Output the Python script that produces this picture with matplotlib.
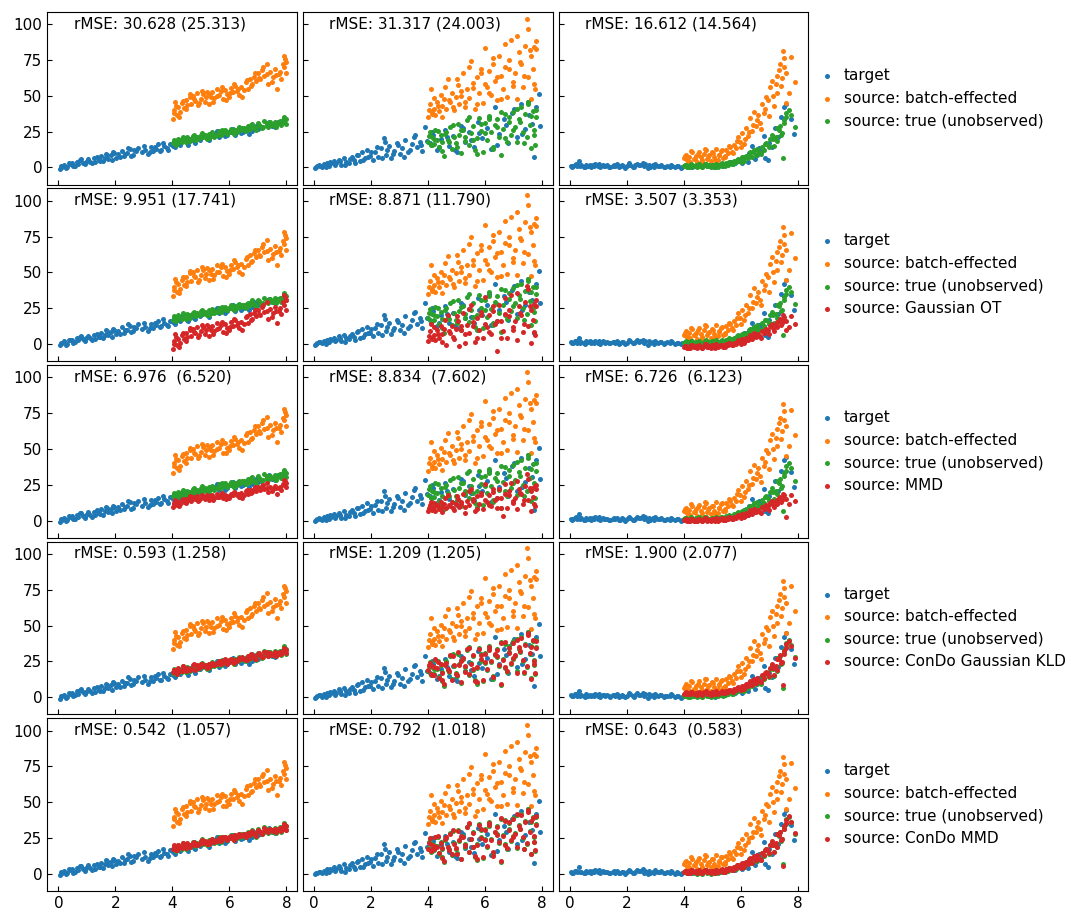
import matplotlib
matplotlib.use("Agg")
import matplotlib.pyplot as plt

# ---- column 1: linear ----
c1_tx = [0.05, 0.12, 0.2, 0.31, 0.4, 0.47, 0.58, 0.66, 0.75, 0.86, 0.93, 1.05, 1.12, 1.24, 1.3, 1.41, 1.5, 1.57,
         1.66, 1.74, 1.83, 1.9, 2.02, 2.1, 2.22, 2.3, 2.41, 2.5, 2.6, 2.71, 2.8, 2.93, 3.05, 3.14, 3.25, 3.33, 3.42,
         3.5, 3.61, 3.72, 3.8, 3.9, 4.02, 4.15, 4.26, 4.37, 4.5, 4.62, 4.75, 4.86, 4.98, 5.1, 5.24, 5.36, 5.5, 5.63,
         5.77, 5.9, 6.05, 6.2, 6.33, 6.47, 6.62, 6.78, 6.92, 7.1, 7.3, 7.5, 7.7, 7.92,
         0.08, 0.25, 0.36, 0.52, 0.7, 0.8, 0.98, 1.18, 1.35, 1.45, 1.62, 1.7, 1.87, 1.96, 2.15, 2.35, 2.45, 2.55,
         2.66, 3.0, 3.2, 3.38, 3.55, 3.67, 3.85, 4.08, 4.32, 4.56, 4.8, 5.05, 5.3, 5.57, 5.84, 6.12, 6.4, 6.7, 7.0,
         7.4, 7.6, 7.85]
c1_ty = [-1.0, 0.5, 1.8, 0.3, 2.5, 3.1, 1.2, 4.0, 5.2, 3.3, 2.1, 5.8, 4.0, 6.3, 3.6, 5.0, 7.8, 4.2, 9.5, 6.1, 8.4,
         10.5, 6.9, 9.2, 11.6, 7.8, 10.1, 12.7, 9.0, 11.4, 13.9, 10.5, 12.0, 9.2, 14.1, 11.5, 13.2, 16.1, 12.3, 14.8,
         13.5, 16.4, 15.2, 17.6, 16.0, 18.9, 17.1, 20.2, 18.3, 21.0, 19.4, 22.3, 20.1, 21.8, 23.5, 21.4, 24.6, 23.0,
         25.1, 22.9, 26.8, 25.0, 27.9, 25.6, 29.3, 28.0, 30.4, 29.1, 31.6, 34.8,
         0.9, -0.5, 3.0, 0.8, 2.5, 5.6, 3.9, 2.8, 7.1, 4.6, 6.6, 8.8, 5.2, 9.8, 7.3, 9.6, 13.8, 8.2, 12.2, 15.0,
         11.0, 14.6, 11.8, 17.2, 12.4, 14.0, 19.8, 15.8, 17.2, 23.0, 18.9, 25.5, 21.7, 27.2, 24.1, 23.5, 27.0,
         31.8, 28.4, 32.0]
c1_sx = [4.02, 4.06, 4.1, 4.15, 4.2, 4.27, 4.33, 4.4, 4.46, 4.52, 4.6, 4.66, 4.72, 4.8, 4.86, 4.93, 5.0, 5.07, 5.14,
         5.2, 5.27, 5.34, 5.4, 5.47, 5.55, 5.62, 5.7, 5.76, 5.83, 5.9, 5.97, 6.05, 6.12, 6.2, 6.27, 6.34, 6.42, 6.5,
         6.57, 6.64, 6.71, 6.78, 6.85, 6.92, 7.0, 7.07, 7.14, 7.22, 7.3, 7.37, 7.44, 7.52, 7.6, 7.67, 7.75, 7.82,
         7.88, 7.93, 7.97, 7.99,
         4.04, 4.13, 4.24, 4.36, 4.49, 4.63, 4.76, 4.9, 5.04, 5.17, 5.3, 5.44, 5.58, 5.73, 5.87, 6.01, 6.16, 6.31,
         6.45, 6.6, 6.75, 6.88, 7.03, 7.18, 7.33, 7.48, 7.63, 7.78, 7.9, 7.96]
c1_batch = [33.5, 40.0, 45.5, 36.5, 42.0, 38.5, 45.0, 41.5, 47.0, 43.5, 49.5, 44.0, 50.0, 46.5, 52.0, 45.0, 48.0,
            51.5, 46.0, 53.0, 44.5, 49.0, 52.5, 48.5, 55.0, 50.5, 53.5, 47.5, 54.0, 51.0, 49.0, 55.5, 52.5, 57.0,
            53.5, 50.5, 56.0, 54.0, 59.5, 55.0, 62.0, 58.0, 63.5, 60.5, 66.0, 61.5, 68.0, 64.0, 72.5, 58.5, 66.5,
            63.0, 68.5, 55.0, 65.0, 62.0, 72.0, 78.0, 66.0, 74.0,
            38.0, 43.0, 35.5, 46.5, 40.5, 51.0, 47.5, 43.5, 53.5, 49.0, 51.5, 45.5, 50.0, 56.0, 47.0, 52.0, 58.5,
            55.0, 49.0, 61.0, 57.0, 66.0, 62.5, 70.0, 65.0, 60.0, 64.5, 67.0, 70.0, 76.0]
c1_true = [17.0, 19.5, 18.0, 16.5, 20.0, 18.5, 17.5, 20.5, 19.0, 21.0, 18.5, 20.0, 22.0, 19.5, 21.5, 20.5, 23.0,
           21.0, 22.5, 20.0, 23.5, 22.0, 24.5, 21.5, 23.0, 25.5, 22.5, 24.5, 26.0, 23.5, 25.0, 27.0, 24.5, 26.5,
           25.0, 28.0, 26.0, 27.5, 25.5, 29.0, 27.0, 30.5, 28.0, 26.0, 31.0, 29.0, 27.5, 32.5, 30.0, 28.5, 31.5,
           29.5, 32.0, 30.5, 31.0, 29.5, 33.0, 35.5, 30.5, 33.5,
           18.5, 16.0, 19.0, 21.5, 17.5, 19.5, 22.5, 20.0, 24.0, 21.5, 20.5, 23.5, 22.5, 26.0, 24.0, 25.5, 23.5,
           27.0, 27.5, 26.5, 29.5, 27.5, 30.0, 28.5, 31.0, 30.0, 28.5, 32.5, 31.5, 34.0]
c1_ot = [-3.5, 2.0, 6.7, -1.0, 3.7, 0.7, 6.3, 3.3, 8.0, 5.0, 10.1, 5.4, 10.5, 7.5, 12.2, 6.3, 8.8, 11.8, 7.1, 13.1,
         5.8, 9.7, 12.6, 9.2, 14.8, 10.9, 13.5, 8.4, 13.9, 11.4, 9.7, 15.2, 12.6, 16.5, 13.5, 10.9, 15.6, 13.9, 18.6,
         14.8, 20.7, 17.3, 22.0, 19.4, 24.1, 20.3, 25.8, 22.4, 29.6, 17.7, 24.5, 21.6, 26.2, 14.8, 23.3, 20.7, 29.2,
         34.3, 24.1, 30.9,
         0.3, 4.6, -1.8, 7.5, 2.4, 11.4, 8.4, 5.0, 13.5, 9.7, 11.8, 6.7, 10.5, 15.6, 8.0, 12.2, 17.7, 14.8, 9.7,
         19.9, 16.5, 24.1, 21.1, 27.5, 23.3, 19.0, 22.8, 25.0, 27.5, 32.6]
c1_mmd = [9.6, 12.3, 14.6, 10.8, 13.1, 11.7, 14.4, 12.9, 15.2, 13.8, 16.3, 14.0, 16.5, 15.0, 17.3, 14.4, 15.7,
          17.1, 14.8, 17.8, 14.2, 16.1, 17.6, 15.9, 18.6, 16.7, 18.0, 15.5, 18.2, 16.9, 16.1, 18.8, 17.6, 19.4,
          18.0, 16.7, 19.0, 18.2, 20.5, 18.6, 21.5, 19.9, 22.2, 20.9, 23.2, 21.3, 24.1, 22.4, 26.0, 20.1, 23.4,
          22.0, 24.3, 18.6, 22.8, 21.5, 25.7, 28.3, 23.2, 26.6,
          11.5, 13.6, 10.4, 15.0, 12.5, 16.9, 15.5, 13.8, 18.0, 16.1, 17.1, 14.6, 16.5, 19.0, 15.2, 17.3, 20.1,
          18.6, 16.1, 21.1, 19.4, 23.2, 21.8, 24.9, 22.8, 20.7, 22.6, 23.6, 24.9, 27.4]
c1_kld = [17.8, 19.1, 18.9, 16.2, 20.6, 18.0, 18.3, 20.1, 19.8, 20.4, 19.2, 19.5, 22.6, 19.0, 22.3, 20.1, 23.5,
          21.8, 22.0, 20.7, 23.0, 22.6, 24.0, 22.2, 23.8, 25.0, 23.1, 24.0, 26.6, 23.0, 25.7, 26.5, 25.1, 26.0,
          25.6, 27.4, 26.7, 27.0, 26.2, 28.5, 27.6, 29.8, 28.6, 26.8, 30.4, 29.5, 28.2, 31.8, 30.6, 29.0, 31.0,
          30.2, 31.4, 31.1, 30.5, 30.2, 32.4, 34.6, 31.2, 32.8,
          19.1, 16.6, 18.4, 22.1, 18.2, 18.9, 23.0, 20.6, 23.4, 22.2, 21.1, 22.9, 23.1, 25.4, 24.6, 24.9, 24.2,
          26.4, 28.1, 25.9, 30.1, 26.9, 30.6, 27.9, 31.6, 29.4, 29.1, 31.9, 32.1, 33.4]
c1_cmmd = [17.4, 19.8, 18.5, 16.9, 20.3, 18.9, 17.9, 20.8, 19.4, 21.5, 18.9, 20.4, 21.6, 19.9, 21.1, 21.0, 22.6,
           21.4, 22.9, 20.5, 23.1, 22.4, 24.1, 21.9, 23.5, 25.1, 22.9, 24.9, 25.6, 23.9, 25.4, 26.7, 24.9, 26.9,
           25.4, 27.6, 26.4, 27.9, 25.9, 28.6, 27.4, 30.1, 28.4, 26.5, 30.6, 29.4, 27.9, 32.0, 30.4, 28.9, 31.1,
           29.9, 31.6, 30.9, 31.4, 29.9, 32.6, 35.0, 30.9, 33.1,
           18.2, 16.4, 19.4, 21.2, 17.9, 19.9, 22.2, 20.4, 23.7, 21.9, 20.9, 23.2, 22.9, 25.7, 24.4, 25.2, 23.9,
           26.7, 27.2, 26.9, 29.2, 27.9, 29.7, 28.9, 30.7, 30.4, 28.9, 32.2, 31.2, 33.7]

# ---- column 2: heteroscedastic ----
c2_tx = [0.03, 0.1, 0.18, 0.27, 0.35, 0.44, 0.52, 0.6, 0.7, 0.78, 0.88, 0.95, 1.05, 1.13, 1.22, 1.33, 1.4, 1.5,
         1.6, 1.68, 1.77, 1.86, 1.95, 2.05, 2.15, 2.25, 2.33, 2.44, 2.52, 2.62, 2.7, 2.82, 2.9, 3.0, 3.1, 3.2, 3.3,
         3.42, 3.5, 3.6, 3.7, 3.8, 3.9, 4.05, 4.18, 4.3, 4.45, 4.6, 4.72, 4.88, 5.0, 5.15, 5.3, 5.45, 5.6, 5.75,
         5.9, 6.05, 6.2, 6.35, 6.5, 6.65, 6.8, 6.95, 7.1, 7.25, 7.4, 7.55, 7.7, 7.88,
         0.06, 0.22, 0.4, 0.56, 0.74, 0.92, 1.1, 1.27, 1.45, 1.55, 1.72, 1.9, 2.0, 2.2, 2.38, 2.48, 2.57, 2.76,
         2.95, 3.15, 3.36, 3.55, 3.75, 3.95, 4.12, 4.38, 4.66, 4.95, 5.22, 5.5, 5.8, 6.12, 6.42, 6.72, 7.0, 7.3,
         7.5, 7.65, 7.8, 7.92]
c2_ty = [-0.5, 0.8, 1.5, 0.4, 2.2, 3.0, 1.2, 2.8, 4.5, 3.0, 5.5, 2.0, 6.5, 4.0, 3.2, 7.2, 5.0, 8.5, 4.5, 10.5, 6.8,
         12.0, 8.0, 5.5, 11.0, 7.5, 13.5, 20.5, 9.0, 15.0, 6.8, 11.5, 17.0, 9.5, 13.5, 19.5, 11.0, 16.5, 21.5,
         14.0, 18.0, 11.5, 28.5, 17.0, 23.0, 12.5, 20.0, 26.5, 15.0, 22.0, 11.0, 29.0, 18.0, 24.5, 14.5, 32.0,
         20.5, 27.5, 13.0, 42.0, 23.5, 33.5, 17.0, 38.0, 21.0, 44.0, 27.0, 36.5, 7.5, 51.0,
         0.3, 1.2, 0.2, 3.6, 1.8, 4.2, 1.5, 5.8, 3.0, 9.0, 5.0, 7.5, 10.5, 14.0, 6.5, 17.5, 12.0, 9.5, 15.5, 7.5,
         12.5, 22.5, 16.0, 18.5, 25.0, 14.5, 21.0, 12.5, 27.5, 19.0, 24.0, 35.0, 16.0, 29.5, 40.5, 23.5, 45.5,
         30.5, 42.0, 29.0]
c2_sx = [4.01, 4.05, 4.1, 4.14, 4.2, 4.25, 4.31, 4.38, 4.44, 4.5, 4.57, 4.63, 4.7, 4.77, 4.84, 4.9, 4.97, 5.04,
         5.1, 5.17, 5.24, 5.31, 5.38, 5.45, 5.52, 5.59, 5.66, 5.73, 5.8, 5.87, 5.94, 6.01, 6.08, 6.15, 6.22, 6.29,
         6.36, 6.43, 6.5, 6.57, 6.64, 6.71, 6.78, 6.85, 6.92, 6.99, 7.06, 7.13, 7.2, 7.27, 7.34, 7.41, 7.47, 7.52,
         7.57, 7.62, 7.67, 7.72, 7.76, 7.8,
         4.03, 4.12, 4.22, 4.34, 4.47, 4.6, 4.73, 4.87, 5.0, 5.14, 5.28, 5.42, 5.56, 5.7, 5.84, 5.98, 6.12, 6.26,
         6.4, 6.54, 6.68, 6.82, 6.96, 7.1, 7.24, 7.38, 7.5, 7.6, 7.7, 7.78]
c2_batch = [35.0, 44.0, 55.0, 38.5, 41.0, 36.5, 46.0, 39.5, 50.5, 43.0, 48.0, 41.0, 61.5, 45.5, 52.0, 40.0, 49.5,
            57.5, 44.0, 53.5, 66.0, 42.5, 55.0, 48.5, 74.5, 59.0, 40.5, 63.5, 52.0, 69.0, 45.0, 83.5, 56.0, 67.5,
            50.5, 72.0, 60.5, 47.0, 78.0, 64.0, 55.0, 70.5, 49.0, 75.0, 89.0, 60.0, 66.0, 48.0, 80.5, 72.5, 56.5,
            85.0, 104.0, 63.0, 82.0, 47.5, 69.0, 84.0, 55.0, 82.5,
            40.0, 37.0, 48.5, 43.0, 35.5, 56.5, 47.0, 42.0, 62.0, 50.0, 46.0, 70.0, 55.5, 44.0, 66.0, 58.5, 52.0,
            76.5, 63.5, 47.5, 86.0, 69.0, 57.0, 92.0, 74.0, 64.0, 97.0, 78.0, 58.0, 88.0]
c2_true = [18.0, 24.5, 15.5, 21.0, 16.5, 26.0, 19.5, 14.0, 22.5, 17.5, 8.0, 25.0, 19.0, 28.5, 13.0, 21.5, 17.0,
           30.5, 23.0, 10.0, 26.5, 18.5, 33.0, 15.5, 24.0, 29.0, 12.0, 20.5, 34.5, 25.5, 11.0, 31.0, 19.0, 36.0,
           24.5, 14.5, 29.5, 33.5, 21.5, 8.5, 27.0, 37.5, 17.5, 31.5, 23.0, 39.0, 28.5, 18.0, 34.0, 42.0, 25.0,
           37.0, 21.0, 44.0, 30.0, 13.5, 39.5, 26.0, 16.0, 35.0,
           22.0, 16.0, 20.0, 25.5, 11.5, 23.5, 17.5, 30.0, 14.5, 26.0, 21.0, 35.0, 19.0, 9.5, 30.5, 24.0, 33.5,
           13.0, 28.0, 38.5, 20.5, 35.5, 26.5, 41.0, 31.5, 17.0, 45.5, 36.0, 22.5, 40.0]
c2_ot = [2.2, 8.9, 14.0, 4.5, 6.1, 2.6, 9.6, 4.5, 12.6, 6.7, 10.3, -1.0, 20.0, 7.8, 12.5, 3.3, 10.2, 16.0, -1.5,
         12.6, 21.8, 0.5, 13.1, 8.0, 27.3, 15.5, 1.4, 18.4, 9.6, 22.1, 3.9, 32.6, 11.8, 20.2, 7.2, 23.1, 14.3, -5.0,
         27.0, 16.3, 9.3, 20.8, 4.4, 23.7, 34.0, 12.0, 16.3, 2.6, 26.8, 20.6, 8.4, 29.5, 40.5, 12.7, 26.8, 0.7, 16.7,
         27.8, 6.0, 26.5,
         5.9, 3.4, 11.7, 7.2, 1.2, 16.6, 9.1, 4.9, 19.5, 10.1, 6.7, 24.2, 12.9, 3.9, 20.0, 14.0, 8.6, 26.6, 16.4,
         4.0, 32.5, 19.3, 9.9, 35.7, 21.8, 13.9, 38.3, 23.7, 8.4, 30.7]
c2_mmd = [6.7, 10.7, 13.0, 8.1, 9.2, 7.0, 11.2, 8.2, 13.0, 9.6, 11.7, 8.5, 17.6, 10.3, 13.1, 7.6, 11.8, 15.3, 9.2,
          13.3, 18.8, 5.0, 13.7, 10.6, 22.2, 15.2, 6.7, 17.0, 11.7, 19.2, 8.4, 25.6, 13.1, 18.2, 10.4, 20.0, 14.7,
          8.5, 22.4, 15.9, 3.0, 18.6, 8.8, 20.5, 26.6, 13.5, 16.1, 7.9, 22.4, 18.7, 11.4, 24.1, 32.6, 14.1, 22.5,
          7.0, 16.6, 23.2, 10.1, 22.4,
          9.0, 7.5, 12.5, 9.9, 6.3, 15.5, 11.1, 8.6, 17.4, 11.8, 9.8, 20.4, 13.7, 8.3, 17.9, 14.3, 11.2, 22.0,
          16.0, 8.6, 25.7, 17.8, 12.2, 27.8, 19.4, 14.7, 29.4, 20.7, 11.6, 24.9]
c2_kld = [18.8, 23.7, 16.3, 21.9, 15.8, 26.9, 20.3, 13.4, 23.4, 16.8, 8.9, 24.2, 19.9, 29.2, 12.3, 22.4, 16.2,
          31.3, 22.2, 10.8, 27.3, 17.8, 33.9, 16.4, 23.1, 29.8, 11.3, 21.4, 33.7, 26.4, 11.9, 30.2, 19.8, 35.1,
          25.3, 13.8, 30.4, 32.7, 22.3, 9.3, 26.2, 38.4, 18.3, 30.7, 23.9, 38.2, 29.4, 17.2, 34.9, 41.1, 25.8,
          36.2, 21.9, 43.2, 30.8, 12.7, 40.3, 25.2, 16.8, 34.2,
          22.8, 15.3, 20.9, 24.7, 12.3, 22.7, 18.3, 29.1, 15.3, 25.2, 21.8, 34.1, 19.8, 10.3, 29.7, 24.8, 32.7,
          13.8, 28.8, 37.7, 21.3, 34.7, 27.3, 40.2, 32.3, 17.8, 44.7, 35.2, 23.3, 39.2]
c2_cmmd = [17.3, 25.2, 16.1, 20.4, 17.2, 25.4, 18.8, 14.7, 21.8, 18.2, 8.6, 25.6, 18.4, 27.9, 13.6, 20.9, 17.7,
           29.8, 23.6, 10.6, 25.9, 19.1, 32.4, 14.9, 24.6, 28.4, 12.6, 19.9, 33.9, 24.9, 11.6, 30.4, 19.6, 35.4,
           23.9, 15.1, 28.9, 32.9, 22.1, 9.1, 26.4, 36.9, 18.1, 30.9, 23.6, 38.4, 27.9, 18.6, 33.4, 41.4, 25.6,
           36.4, 21.6, 43.4, 29.4, 14.1, 38.9, 26.6, 16.6, 34.4,
           21.4, 16.6, 19.4, 26.1, 11.1, 24.1, 16.9, 30.6, 14.1, 26.6, 20.4, 35.6, 18.6, 10.1, 31.1, 23.4, 34.1,
           12.6, 27.4, 39.1, 20.1, 36.1, 25.9, 41.6, 31.1, 17.6, 44.9, 36.6, 22.1, 40.6]

# ---- column 3: exponential ----
c3_tx = [0.04, 0.11, 0.19, 0.26, 0.33, 0.41, 0.5, 0.57, 0.65, 0.74, 0.82, 0.9, 0.98, 1.07, 1.15, 1.24, 1.32, 1.4,
         1.5, 1.58, 1.67, 1.75, 1.84, 1.93, 2.02, 2.1, 2.2, 2.28, 2.37, 2.46, 2.55, 2.65, 2.73, 2.82, 2.92, 3.0, 3.1,
         3.2, 3.3, 3.4, 3.5, 3.6, 3.7, 3.8, 3.9, 4.0, 4.15, 4.3, 4.45, 4.6, 4.75, 4.9, 5.05, 5.2, 5.35, 5.5, 5.65,
         5.8, 5.95, 6.1, 6.25, 6.4, 6.55, 6.7, 6.85, 7.0, 7.2, 7.4, 7.6, 7.85,
         0.07, 0.23, 0.37, 0.53, 0.7, 0.86, 1.02, 1.19, 1.36, 1.54, 1.71, 1.88, 2.06, 2.24, 2.42, 2.6, 2.78, 2.96,
         3.15, 3.35, 3.55, 3.75, 3.95, 4.2, 4.5, 4.8, 5.1, 5.4, 5.7, 5.9, 6.05, 6.3, 6.5, 6.65, 6.8, 6.95, 7.1,
         7.3, 7.5, 7.75]
c3_ty = [1.2, 0.8, 1.9, 1.0, 4.5, 1.5, 0.6, 2.0, 1.1, 0.5, 1.6, 2.4, 1.0, 0.3, 1.8, 0.9, 1.4, 0.4, 1.2, 0.8, 2.1,
         0.7, 1.5, -0.2, 1.0, 2.0, 0.6, 1.4, 2.6, 1.8, 3.0, 2.2, -0.5, 0.6, 1.5, 2.4, 0.9, 1.7, 0.2, 1.1, 0.5, 1.3,
         0.1, 0.8, -0.3, 0.9, 1.6, 0.5, 1.3, 0.8, 1.9, 1.0, 0.6, 1.7, 1.2, 2.5, 3.5, 2.8, 5.0, 7.5, 4.0, 15.0, 9.0,
         11.0, 6.5, 17.0, 27.5, 35.0, 44.5, 23.5,
         0.6, 2.2, 1.0, 0.3, 1.8, 0.9, 2.3, 1.2, 0.5, 1.6, 0.2, 1.1, 2.8, 0.4, 1.6, 0.8, 1.9, 0.3, 1.3, 0.6, 1.9,
         0.9, 0.4, 1.5, 0.7, 1.2, 0.4, 2.0, 3.0, 4.5, 3.0, 10.0, 6.0, 13.5, 22.0, 5.0, 14.0, 21.0, 42.0, 34.0]
c3_sx = [4.02, 4.07, 4.12, 4.17, 4.23, 4.29, 4.35, 4.41, 4.47, 4.53, 4.59, 4.65, 4.71, 4.77, 4.83, 4.89, 4.95,
         5.01, 5.07, 5.13, 5.19, 5.25, 5.31, 5.37, 5.43, 5.49, 5.55, 5.62, 5.69, 5.76, 5.83, 5.9, 5.97, 6.04, 6.11,
         6.18, 6.25, 6.32, 6.39, 6.46, 6.53, 6.6, 6.67, 6.74, 6.81, 6.88, 6.95, 7.02, 7.09, 7.16, 7.22, 7.28, 7.33,
         7.38, 7.43, 7.48, 7.53, 7.58, 7.75, 7.9,
         4.05, 4.15, 4.26, 4.38, 4.5, 4.62, 4.74, 4.86, 4.98, 5.1, 5.22, 5.34, 5.46, 5.58, 5.72, 5.86, 6.0, 6.14,
         6.28, 6.42, 6.56, 6.7, 6.84, 6.98, 7.12, 7.26, 7.4, 7.5, 7.6, 7.7]
c3_batch = [6.5, 9.0, 5.0, 7.5, 4.0, 10.5, 6.0, 8.0, 3.5, 11.0, 7.0, 5.0, 9.5, 12.5, 6.0, 8.5, 4.5, 10.0, 7.0,
            13.0, 5.5, 9.0, 11.5, 6.5, 8.0, 12.5, 10.0, 14.0, 11.0, 16.0, 13.5, 21.5, 18.0, 24.0, 16.5, 27.5, 22.0,
            34.5, 25.5, 39.0, 29.0, 36.5, 31.0, 44.0, 38.0, 49.0, 47.0, 56.0, 60.5, 43.0, 58.0, 52.0, 68.0, 72.0,
            62.5, 81.5, 76.5, 45.0, 77.5, 60.0,
            8.0, 4.5, 11.5, 6.0, 9.5, 3.5, 13.0, 7.5, 10.5, 5.0, 8.5, 12.0, 7.0, 15.0, 10.0, 18.5, 14.0, 20.0,
            25.0, 29.5, 33.0, 27.0, 41.0, 36.0, 50.0, 64.0, 57.0, 70.0, 66.0, 52.0]
c3_true = [1.0, 1.8, 0.5, 1.3, 0.2, 2.0, 0.9, 1.5, 0.0, 2.2, 1.0, 0.4, 1.7, 2.5, 0.7, 1.4, 0.1, 1.9, 1.0, 2.6, 0.6,
           1.5, 2.2, 1.0, 1.8, 3.0, 2.0, 3.5, 2.5, 4.5, 3.5, 6.0, 5.0, 7.0, 4.5, 8.0, 6.5, 10.5, 7.5, 12.0, 9.0,
           11.5, 10.0, 14.5, 12.5, 17.0, 16.0, 20.0, 22.5, 15.0, 21.0, 18.5, 26.5, 29.0, 24.0, 6.5, 33.0, 38.0,
           36.5, 28.0,
           1.5, 0.3, 2.2, 0.8, 1.6, 0.1, 2.4, 1.2, 1.9, 0.5, 1.4, 2.8, 1.2, 4.0, 2.5, 5.5, 4.0, 7.0, 9.0, 11.0,
           13.0, 9.5, 16.5, 14.0, 20.0, 27.5, 23.0, 31.0, 35.0, 40.0]
c3_ot = [-2.0, -1.3, -2.5, -1.8, -2.8, -0.9, -2.2, -1.6, -2.9, -0.7, -1.9, -2.5, -1.2, -0.3, -2.2, -1.5, -2.7,
         -1.0, -1.9, -0.1, -2.4, -1.3, -0.6, -2.0, -1.6, -0.3, -1.0, 0.2, -0.7, 0.8, 0.1, 2.5, 1.4, 3.2, 1.0, 4.3,
         2.6, 6.4, 3.7, 7.7, 4.7, 7.0, 5.3, 9.2, 7.4, 10.7, 10.1, 12.8, 14.2, 8.9, 13.4, 11.6, 16.4, 17.6, 14.8,
         20.5, 19.0, 9.5, 19.3, 14.0,
         -1.6, -2.7, -0.6, -2.2, -1.2, -3.0, -0.1, -1.8, -0.9, -2.5, -1.5, -0.4, -1.9, 0.5, -1.0, 1.6, 0.2, 2.0,
         3.5, 4.9, 5.9, 4.1, 8.3, 6.8, 11.0, 15.2, 13.1, 17.0, 15.8, 11.6]
c3_mmd = [0.1, 0.8, -0.3, 0.4, -0.5, 1.1, 0.0, 0.5, -0.6, 1.3, 0.3, -0.3, 0.9, 1.6, 0.0, 0.6, -0.4, 1.0, 0.3, 1.8,
          -0.1, 0.8, 1.4, 0.1, 0.5, 1.6, 1.0, 2.0, 1.3, 2.5, 1.9, 3.9, 3.0, 4.5, 2.6, 5.4, 4.0, 7.1, 4.9, 8.3, 5.8,
          7.6, 6.3, 9.5, 8.0, 10.8, 10.3, 12.5, 13.6, 9.3, 13.0, 11.5, 15.5, 16.5, 14.1, 18.9, 17.6, 2.5, 17.9, 13.5,
          0.5, -0.4, 1.4, 0.0, 0.9, -0.6, 1.8, 0.4, 1.1, -0.3, 0.6, 1.5, 0.3, 2.3, 1.0, 3.1, 2.0, 3.5, 4.8, 5.9,
          6.8, 5.3, 8.8, 7.5, 11.0, 14.5, 12.8, 16.0, 15.0, 11.5]
c3_kld = [2.5, 3.4, 2.1, 2.8, 1.9, 3.6, 2.3, 3.1, 1.6, 3.7, 2.6, 1.9, 3.3, 4.1, 2.2, 3.0, 1.7, 3.5, 2.5, 4.2, 2.1,
          3.1, 3.8, 2.6, 3.4, 4.6, 3.5, 4.9, 4.0, 5.9, 4.8, 7.2, 6.1, 8.1, 5.7, 9.2, 7.6, 11.5, 8.6, 13.0, 10.0,
          12.3, 11.1, 15.3, 13.4, 17.6, 16.8, 20.4, 22.9, 15.7, 21.6, 19.2, 26.8, 29.5, 24.5, 8.5, 32.5, 37.0,
          36.0, 27.5,
          3.0, 1.9, 3.6, 2.3, 3.1, 1.7, 3.9, 2.7, 3.4, 2.0, 2.9, 4.2, 2.8, 5.2, 3.9, 6.4, 5.0, 7.8, 9.6, 11.8,
          13.6, 10.3, 17.1, 14.8, 20.6, 26.8, 23.7, 30.4, 34.3, 39.2]
c3_cmmd = [1.3, 2.0, 0.8, 1.6, 0.5, 2.3, 1.2, 1.8, 0.3, 2.5, 1.3, 0.7, 2.0, 2.8, 1.0, 1.7, 0.4, 2.2, 1.3, 2.9, 0.9,
           1.8, 2.5, 1.3, 2.1, 3.3, 2.3, 3.8, 2.8, 4.8, 3.8, 6.3, 5.3, 7.3, 4.8, 8.3, 6.8, 10.8, 7.8, 12.3, 9.3,
           11.8, 10.3, 14.8, 12.8, 17.3, 16.3, 20.3, 22.8, 15.3, 21.3, 18.8, 26.8, 29.3, 24.3, 5.5, 33.3, 37.5,
           36.0, 28.5,
           1.8, 0.6, 2.5, 1.1, 1.9, 0.4, 2.7, 1.5, 2.2, 0.8, 1.7, 3.1, 1.5, 4.3, 2.8, 5.8, 4.3, 7.3, 9.3, 11.3,
           13.3, 9.8, 16.8, 14.3, 20.3, 27.8, 23.3, 31.3, 35.3, 40.3]

methods = [None, "Gaussian OT", "MMD", "ConDo Gaussian KLD", "ConDo MMD"]
rmse = [
    ["rMSE: 30.628 (25.313)", "rMSE: 31.317 (24.003)", "rMSE: 16.612 (14.564)"],
    ["rMSE: 9.951 (17.741)", "rMSE: 8.871 (11.790)", "rMSE: 3.507 (3.353)"],
    ["rMSE: 6.976  (6.520)", "rMSE: 8.834  (7.602)", "rMSE: 6.726  (6.123)"],
    ["rMSE: 0.593 (1.258)", "rMSE: 1.209 (1.205)", "rMSE: 1.900 (2.077)"],
    ["rMSE: 0.542  (1.057)", "rMSE: 0.792  (1.018)", "rMSE: 0.643  (0.583)"],
]

columns = [
    (c1_tx, c1_ty, c1_sx, c1_batch, c1_true, [None, c1_ot, c1_mmd, c1_kld, c1_cmmd]),
    (c2_tx, c2_ty, c2_sx, c2_batch, c2_true, [None, c2_ot, c2_mmd, c2_kld, c2_cmmd]),
    (c3_tx, c3_ty, c3_sx, c3_batch, c3_true, [None, c3_ot, c3_mmd, c3_kld, c3_cmmd]),
]

plt.rcParams["font.size"] = 11
fig, axes = plt.subplots(5, 3, figsize=(10.75, 9.11), dpi=100, sharex=True, sharey=True)
fig.subplots_adjust(left=0.044, right=0.752, top=0.987, bottom=0.022, wspace=0.024, hspace=0.022)

dot = dict(s=13, linewidths=0)
for r in range(5):
    for c in range(3):
        ax = axes[r, c]
        tx, ty, sx, batch, true, corrected = columns[c]
        ax.scatter(tx, ty, color="C0", label="target", **dot)
        ax.scatter(sx, batch, color="C1", label="source: batch-effected", **dot)
        ax.scatter(sx, true, color="C2", label="source: true (unobserved)", **dot)
        if methods[r] is not None:
            ax.scatter(sx, corrected[r], color="C3", label="source: " + methods[r], **dot)
        ax.text(0.105, 0.975, rmse[r][c], transform=ax.transAxes, va="top", ha="left")
        ax.tick_params(direction="in")
        if c == 2:
            ax.legend(loc="center left", bbox_to_anchor=(1.0, 0.5), frameon=False,
                      handlelength=0.6, handletextpad=0.8)

axes[0, 0].set_xlim(-0.39, 8.37)
axes[0, 0].set_ylim(-12, 108.7)
axes[0, 0].set_xticks([0, 2, 4, 6, 8])
axes[0, 0].set_yticks([0, 25, 50, 75, 100])

fig.savefig("out.png", dpi=100)
